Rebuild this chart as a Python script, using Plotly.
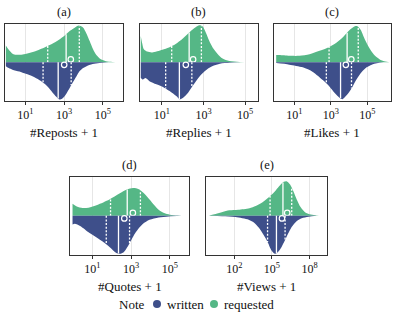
import numpy as np
import plotly.graph_objects as go

# ---------------- data ----------------
titles = ["(a)", "(b)", "(c)", "(d)", "(e)"]
xlabels = ["#Reposts + 1", "#Replies + 1", "#Likes + 1", "#Quotes + 1", "#Views + 1"]
tick_exps = [[1, 3, 5], [1, 3, 5], [1, 3, 5], [1, 3, 5], [2, 5, 8]]
legend_title = "Note"
series_names = ["written", "requested"]

# kernel-density profiles: log10(x+1) grid and half-width (peak ~1)
reposts_req_logx = [0.0, 0.13, 0.31, 0.48, 0.74, 1.0, 1.52, 2.13, 2.56, 2.99, 3.25, 3.51, 3.77, 3.98, 4.15, 4.33, 4.5, 4.67, 4.9, 5.16, 5.5, 5.9]
reposts_req_dens = [0.44, 0.34, 0.24, 0.20, 0.20, 0.22, 0.29, 0.42, 0.53, 0.68, 0.80, 0.89, 0.96, 0.91, 0.76, 0.55, 0.34, 0.19, 0.08, 0.03, 0.012, 0.0]
reposts_wri_logx = [0.0, 0.15, 0.34, 0.7, 1.03, 1.4, 1.72, 2.0, 2.24, 2.45, 2.59, 2.76, 2.9, 3.02, 3.15, 3.28, 3.4, 3.53, 3.66, 3.79, 3.95, 4.14, 4.48, 4.83, 5.3]
reposts_wri_dens = [0.10, 0.15, 0.19, 0.24, 0.30, 0.37, 0.46, 0.56, 0.68, 0.81, 0.89, 0.97, 0.95, 0.89, 0.79, 0.68, 0.57, 0.46, 0.35, 0.24, 0.16, 0.105, 0.044, 0.018, 0.0]

replies_req_logx = [-0.02, 0.05, 0.13, 0.29, 0.53, 1.02, 1.34, 1.66, 1.98, 2.31, 2.55, 2.79, 2.95, 3.11, 3.27, 3.44, 3.68, 3.92, 4.24, 4.73, 5.4]
replies_req_dens = [0.69, 0.50, 0.34, 0.28, 0.26, 0.33, 0.39, 0.48, 0.61, 0.78, 0.89, 0.97, 0.94, 0.78, 0.57, 0.39, 0.22, 0.10, 0.035, 0.01, 0.0]
replies_wri_logx = [-0.02, 0.08, 0.21, 0.4, 0.73, 1.05, 1.37, 1.69, 1.85, 2.02, 2.26, 2.5, 2.82, 3.15, 3.47, 3.79, 4.27, 4.8]
replies_wri_dens = [0.40, 0.45, 0.41, 0.49, 0.57, 0.64, 0.75, 0.88, 0.96, 0.92, 0.79, 0.60, 0.36, 0.19, 0.09, 0.034, 0.01, 0.0]

likes_req_logx = [0.0, 0.17, 0.72, 1.28, 1.83, 2.38, 2.94, 3.3, 3.67, 4.04, 4.32, 4.45, 4.63, 4.87, 5.15, 5.42, 5.7, 5.98, 6.2]
likes_req_dens = [0.19, 0.19, 0.17, 0.17, 0.21, 0.30, 0.41, 0.51, 0.66, 0.85, 0.94, 0.94, 0.85, 0.59, 0.34, 0.17, 0.07, 0.02, 0.0]
likes_wri_logx = [0.0, 0.72, 1.46, 2.01, 2.57, 2.94, 3.21, 3.49, 3.64, 3.86, 4.13, 4.41, 4.69, 4.96, 5.24, 5.52, 5.88]
likes_wri_dens = [0.02, 0.06, 0.13, 0.25, 0.47, 0.64, 0.80, 0.93, 0.96, 0.86, 0.68, 0.44, 0.25, 0.13, 0.06, 0.025, 0.0]

quotes_req_logx = [-0.02, 0.2, 0.5, 0.8, 1.25, 1.88, 2.4, 2.78, 3.1, 3.4, 3.7, 3.95, 4.2, 4.45, 4.7, 5.0, 5.4, 5.9]
quotes_req_dens = [0.31, 0.24, 0.20, 0.21, 0.28, 0.42, 0.57, 0.67, 0.71, 0.68, 0.56, 0.42, 0.27, 0.14, 0.07, 0.03, 0.01, 0.0]
quotes_wri_logx = [-0.02, 0.1, 0.37, 0.86, 1.3, 1.6, 1.9, 2.22, 2.42, 2.62, 2.9, 3.24, 3.6, 3.95, 4.42, 4.93, 5.6]
quotes_wri_dens = [0.22, 0.20, 0.26, 0.44, 0.58, 0.68, 0.80, 0.94, 0.97, 0.93, 0.72, 0.42, 0.21, 0.10, 0.04, 0.015, 0.0]

views_req_logx = [0.0, 0.5, 1.05, 1.6, 2.3, 3.2, 3.7, 4.25, 4.8, 5.3, 5.65, 5.95, 6.2, 6.45, 6.72, 6.98, 7.3, 7.7, 8.1, 8.6, 9.0]
views_req_dens = [0.01, 0.05, 0.10, 0.14, 0.155, 0.195, 0.25, 0.35, 0.49, 0.65, 0.78, 0.87, 0.88, 0.80, 0.62, 0.42, 0.22, 0.08, 0.035, 0.012, 0.0]
views_wri_logx = [0.0, 1.02, 2.08, 3.14, 3.6, 3.94, 4.2, 4.47, 4.7, 4.86, 5.0, 5.13, 5.27, 5.4, 5.6, 5.79, 6.0, 6.19, 6.4, 6.59, 6.99, 7.38, 7.92, 8.6]
views_wri_dens = [0.0, 0.01, 0.03, 0.10, 0.18, 0.30, 0.42, 0.56, 0.70, 0.82, 0.90, 0.95, 0.97, 0.95, 0.88, 0.78, 0.65, 0.52, 0.39, 0.28, 0.13, 0.06, 0.02, 0.0]

# summary statistics in log10(x+1): [q1, median, q3, mean]
reposts_req_stats = [2.16, 3.11, 3.79, 3.35]
reposts_wri_stats = [1.92, 2.70, 3.37, 3.01]
replies_req_stats = [1.47, 2.31, 2.90, 2.50]
replies_wri_stats = [1.18, 1.84, 2.44, 2.15]
likes_req_stats = [2.90, 3.89, 4.50, 4.12]
likes_wri_stats = [2.75, 3.53, 4.13, 3.82]
quotes_req_stats = [1.94, 2.80, 3.48, 3.09]
quotes_wri_stats = [1.72, 2.35, 2.92, 2.65]
views_req_stats = [4.85, 5.88, 6.58, 6.22]
views_wri_stats = [4.65, 5.36, 6.05, 5.80]

written = [
    (reposts_wri_logx, reposts_wri_dens, reposts_wri_stats),
    (replies_wri_logx, replies_wri_dens, replies_wri_stats),
    (likes_wri_logx, likes_wri_dens, likes_wri_stats),
    (quotes_wri_logx, quotes_wri_dens, quotes_wri_stats),
    (views_wri_logx, views_wri_dens, views_wri_stats),
]
requested = [
    (reposts_req_logx, reposts_req_dens, reposts_req_stats),
    (replies_req_logx, replies_req_dens, replies_req_stats),
    (likes_req_logx, likes_req_dens, likes_req_stats),
    (quotes_req_logx, quotes_req_dens, quotes_req_stats),
    (views_req_logx, views_req_dens, views_req_stats),
]

# ---------------- style / layout ----------------
W, H = 398, 314
BLUE = "#3e4f8a"
GREEN = "#55b786"
FONT = "Liberation Serif"
TXT = "#111111"
x_ranges = [[-0.07, 6.06], [-0.08, 5.61], [-0.12, 6.28], [-0.15, 6.0], [-0.27, 9.4]]
boxes_px = [  # left, right, top, bottom in pixels
    (4.5, 123.3, 24, 100.7),
    (139.5, 257.7, 24, 100.7),
    (274, 390.7, 24, 100.7),
    (70, 189.3, 176.7, 255),
    (206, 327, 176.7, 255),
]

fig = go.Figure()


def axname(i, letter):
    return letter if i == 0 else f"{letter}{i + 1}"


for i in range(5):
    xa, ya = axname(i, "x"), axname(i, "y")
    for (lx, dens, stats), color, sign, mean_off in [
        (requested[i], GREEN, 1, 0.075),
        (written[i], BLUE, -1, -0.065),
    ]:
        lx = np.array(lx)
        dens = np.array(dens)
        xs = 10 ** lx
        fig.add_trace(go.Scatter(
            x=xs, y=sign * dens, mode="lines", fill="tozeroy",
            fillcolor=color, line=dict(color=color, width=0, shape="spline", smoothing=0.8),
            xaxis=xa, yaxis=ya, showlegend=False, hoverinfo="skip"))
        q1, med, q3, mean = stats
        for q, dash in [(q1, "2px,1.6px"), (med, "solid"), (q3, "2px,1.6px")]:
            hq = float(np.interp(q, lx, dens))
            fig.add_trace(go.Scatter(
                x=[10 ** q, 10 ** q], y=[0, sign * hq], mode="lines",
                line=dict(color="white", width=1.3, dash=dash),
                xaxis=xa, yaxis=ya, showlegend=False, hoverinfo="skip"))
        fig.add_trace(go.Scatter(
            x=[10 ** mean], y=[mean_off], mode="markers",
            marker=dict(symbol="circle", size=5.5, color=color, line=dict(color="white", width=1.2)),
            xaxis=xa, yaxis=ya, showlegend=False, hoverinfo="skip"))

# manual legend on a hidden axis spanning the bottom strip (x in pixels)
leg_marker_x = [157, 214]
leg_text_x = [164.5, 221.5]
fig.add_trace(go.Scatter(
    x=leg_marker_x, y=[0.5, 0.5], mode="markers",
    marker=dict(symbol="circle", size=8, color=[BLUE, GREEN]),
    xaxis="x6", yaxis="y6", showlegend=False, hoverinfo="skip"))

layout = dict(
    width=W, height=H, margin=dict(l=0, r=0, t=0, b=0),
    paper_bgcolor="white", plot_bgcolor="white",
    font=dict(family=FONT, size=12, color=TXT),
    showlegend=False,
    xaxis6=dict(domain=[0, 1], range=[0, W], visible=False, anchor="y6", fixedrange=True),
    yaxis6=dict(domain=[1 - 314 / H, 1 - 294 / H], range=[0, 1], visible=False, anchor="x6", fixedrange=True),
)
annotations = []
LEG_Y = 1 - 304 / H
annotations.append(dict(text=legend_title, x=147 / W, y=LEG_Y, xref="paper", yref="paper",
                        xanchor="right", yanchor="middle", showarrow=False,
                        font=dict(size=13, family=FONT, color=TXT)))
for name, tx in zip(series_names, leg_text_x):
    annotations.append(dict(text=name, x=tx / W, y=LEG_Y, xref="paper", yref="paper",
                            xanchor="left", yanchor="middle", showarrow=False,
                            font=dict(size=13, family=FONT, color=TXT)))

for i in range(5):
    l, r, t, b = boxes_px[i]
    xkey = "xaxis" if i == 0 else f"xaxis{i + 1}"
    ykey = "yaxis" if i == 0 else f"yaxis{i + 1}"
    exps = tick_exps[i]
    layout[xkey] = dict(
        domain=[l / W, r / W], anchor=axname(i, "y"), type="log",
        range=x_ranges[i],
        tickvals=[10 ** e for e in exps],
        ticktext=[f"10<sup>{e}</sup>" for e in exps],
        tickfont=dict(size=12, family=FONT, color=TXT),
        showgrid=True, gridcolor="#e6e6e6", gridwidth=1,
        showline=True, linecolor="#333333", linewidth=1, mirror=True,
        ticks="outside", ticklen=3, tickcolor="#333333", tickwidth=1,
        zeroline=False, fixedrange=True)
    layout[ykey] = dict(
        domain=[1 - b / H, 1 - t / H], anchor=axname(i, "x"),
        range=[-1.0, 1.0], showticklabels=False, ticks="",
        showgrid=False, zeroline=False,
        showline=True, linecolor="#333333", linewidth=1, mirror=True,
        fixedrange=True)
    cx = (l + r) / 2 / W
    annotations.append(dict(
        text=titles[i], x=cx, y=1 - (t - 11.6) / H, xref="paper", yref="paper",
        xanchor="center", yanchor="middle", showarrow=False,
        font=dict(size=12.5, family=FONT, color=TXT)))
    annotations.append(dict(
        text=xlabels[i], x=cx, y=1 - (b + 31.5) / H, xref="paper", yref="paper",
        xanchor="center", yanchor="middle", showarrow=False,
        font=dict(size=13, family=FONT, color=TXT)))
layout["annotations"] = annotations
fig.update_layout(**layout)

fig.write_html(
    "out.html",
    config={"displayModeBar": False},
    post_script="document.body.style.margin='0px';document.body.style.overflow='hidden';",
)
